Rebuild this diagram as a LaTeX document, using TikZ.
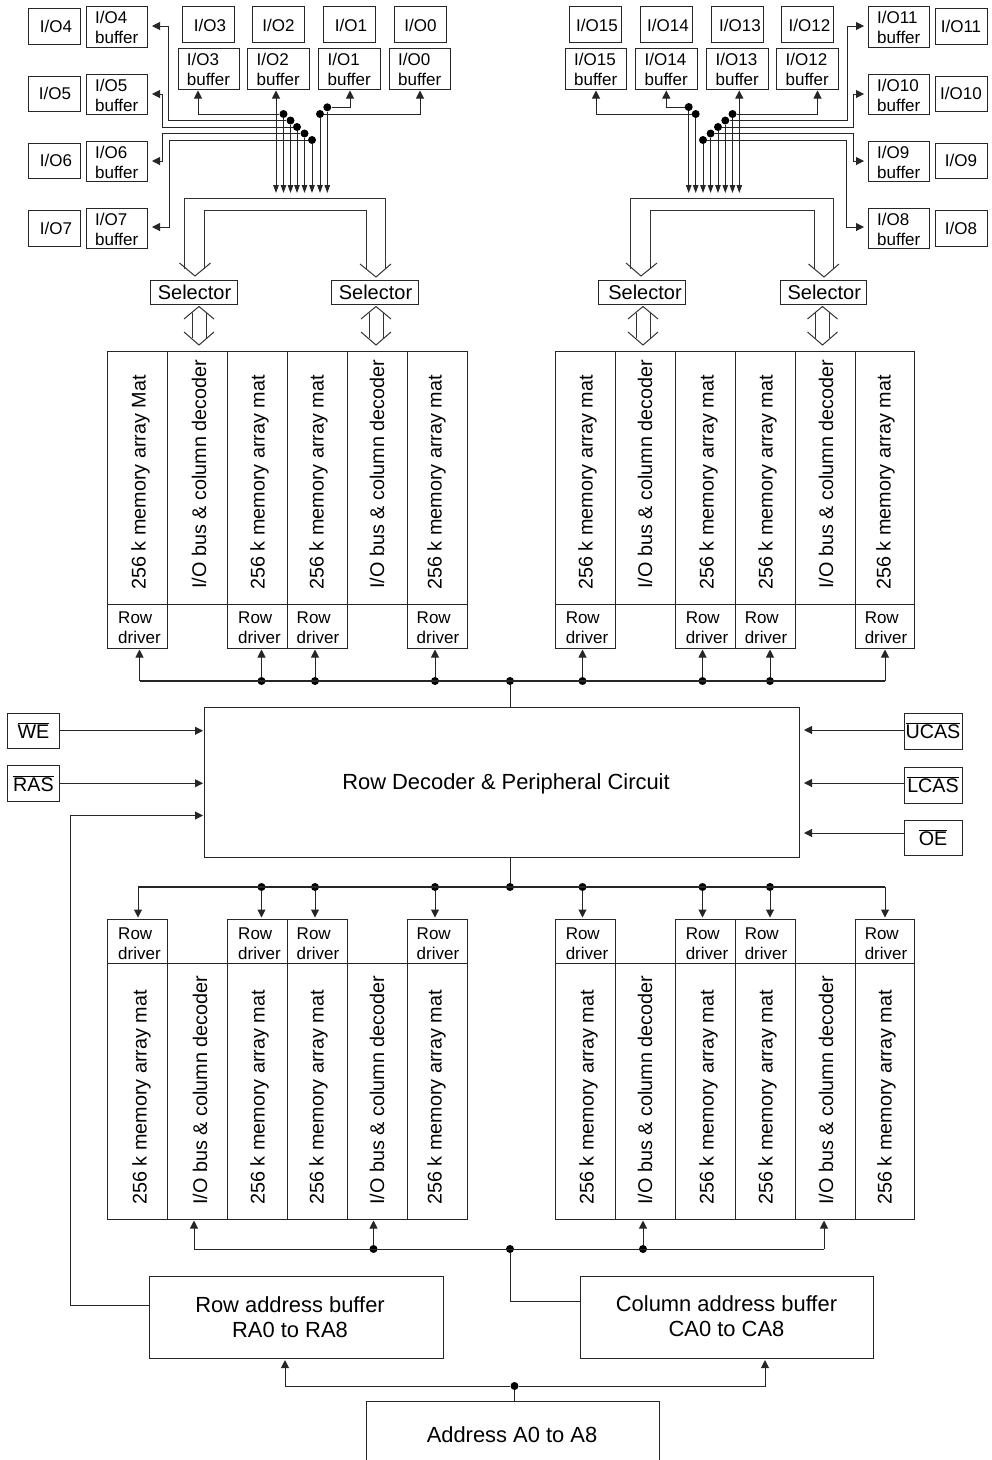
\documentclass[tikz,border=0pt]{standalone}
\usepackage{fontspec}
\setmainfont{Liberation Sans}
\usetikzlibrary{arrows.meta,calc}
\newcommand\mybox[7][]{%
  \pgfmathsetmacro\myw{#5-#3}\pgfmathsetmacro\myh{#6-#4}%
  \pgfmathsetmacro\mycx{(#3+#5)/2}\pgfmathsetmacro\mycy{(#4+#6)/2}%
  \node[boxn,minimum width=\myw pt,minimum height=\myh pt,#1] (#2) at (\mycx,\mycy) {#7};}
\newcommand\ovl[1]{{\fontsize{19.7}{22}\selectfont$\overline{\mbox{#1}}$}}
\newcommand\bufl[1]{\rule{0pt}{14.5pt}#1\\buffer}
\newcommand\topl[1]{\rule{0pt}{15.5pt}#1}
\newcommand\sel{\fontsize{20}{22}\selectfont Selector}
\tikzset{
  boxn/.style={draw=black!85,line width=1pt,inner sep=0pt,outer sep=0pt,align=center,
    font=\fontsize{17}{20}\selectfont},
  buf/.style={align=left},
  txtb/.style={inner sep=0pt,align=center,font=\fontsize{21.9}{24.5}\selectfont},
  rowt/.style={inner sep=0pt,align=left,font=\fontsize{17}{20}\selectfont},
  vtext/.style={rotate=90,anchor=west,inner sep=0pt,font=\fontsize{19.8}{22}\selectfont},
  dotn/.style={circle,fill=black,inner sep=0pt,minimum size=8pt},
  wire/.style={draw=black!85,line width=1pt},
  arr/.style={wire,-{Triangle[length=8pt,width=8pt]},shorten >=1.5pt},
  arrs/.style={wire,-{Triangle[length=8pt,width=5.5pt]}},
  arrb/.style={wire,{Triangle[length=8pt,width=8pt]}-{Triangle[length=8pt,width=5.5pt]}},
  hol/.style={draw=black!80,line width=1pt,line join=miter},
}
\begin{document}
\begin{tikzpicture}[x=1pt,y=-1pt]
\useasboundingbox (0,0) rectangle (992,1460);
% ---------- I/O pads and buffers, left
\mybox{p4}{28.5}{8.5}{80.5}{44}{\kern3pt I/O4}
\mybox{p5}{28.5}{76}{80.5}{111}{\kern1pt I/O5}
\mybox{p6}{28.5}{143}{80.5}{178.5}{\kern3pt I/O6}
\mybox{p7}{28.5}{210.5}{80.5}{246}{\kern3pt I/O7}
\mybox[buf]{b4}{86}{6}{147.5}{47}{\bufl{I/O4}}
\mybox[buf]{b5}{86}{74}{147.5}{114}{\bufl{I/O5}}
\mybox[buf]{b6}{86}{141}{147.5}{181}{\bufl{I/O6}}
\mybox[buf]{b7}{86}{208}{147.5}{248}{\bufl{I/O7}}
\mybox{p3}{182}{6.5}{234}{42}{\topl{\kern4pt I/O3}}
\mybox{p2}{252.5}{6.5}{304.5}{42}{\topl{I/O2}}
\mybox{p1}{323.5}{6.5}{375.5}{42}{\topl{\kern3pt I/O1}}
\mybox{p0}{394.5}{6.5}{446.5}{42}{\topl{I/O0}}
\mybox[buf]{b3}{178}{48}{239}{89}{\bufl{I/O3}}
\mybox[buf]{b2}{247.5}{48}{309}{89}{\bufl{I/O2}}
\mybox[buf]{b1}{318.5}{48}{380}{89}{\bufl{I/O1}}
\mybox[buf]{b0}{389}{48}{450.5}{89}{\bufl{I/O0}}
% ---------- I/O pads and buffers, right
\mybox{p15}{569}{6.5}{621}{42}{\topl{\kern4pt I/O15}}
\mybox{p14}{640}{6.5}{692}{42}{\topl{\kern4pt I/O14}}
\mybox{p13}{711}{6.5}{763}{42}{\topl{\kern6pt I/O13}}
\mybox{p12}{781.5}{6.5}{833.5}{42}{\topl{\kern4pt I/O12}}
\mybox[buf]{b15}{565}{48}{626.5}{89}{\bufl{I/O15}}
\mybox[buf]{b14}{635.5}{48}{697}{89}{\bufl{I/O14}}
\mybox[buf]{b13}{706.5}{48}{768}{89}{\bufl{I/O13}}
\mybox[buf]{b12}{776.5}{48}{838}{89}{\bufl{I/O12}}
\mybox[buf]{b11}{868}{6}{929.5}{47}{\bufl{I/O11}}
\mybox[buf]{b10}{868}{74}{929.5}{114}{\bufl{I/O10}}
\mybox[buf]{b9}{868}{141}{929.5}{181}{\bufl{I/O9}}
\mybox[buf]{b8}{868}{208}{929.5}{248}{\bufl{I/O8}}
\mybox{p11}{935}{8.5}{987}{44}{I/O11}
\mybox{p10}{935}{76}{987}{111}{I/O10}
\mybox{p9}{935}{143}{987}{178.5}{I/O9}
\mybox{p8}{935}{210.5}{987}{246}{I/O8}
% ---------- left fan
\coordinate (fanl) at (300,193);
\node[dotn] (j3) at (283.5,114) {};
\node[dotn] (j4) at (290.5,120.5) {};
\node[dotn] (j5) at (297,127) {};
\node[dotn] (j6) at (304.5,133.5) {};
\node[dotn] (j7) at (312,140) {};
\node[dotn] (j0) at (320,114) {};
\node[dotn] (j1) at (327.3,107.3) {};
\draw[arr] (j3) -| ([xshift=-10.5pt]b3.south);
\draw[arr] (j1) -| ([xshift=0.75pt]b1.south);
\draw[arr] (j0) -| ([xshift=0.25pt]b0.south);
\draw[arr,shorten >=4.5pt] (j4) -- (168.5,120.5) -- (168.5,26) -- (b4.east |- 168.5,26);
\draw[arr,shorten >=4.5pt] (j5) -- (162.5,127) -- (162.5,94) -- (b5.east);
\draw[arr,shorten >=4.5pt] (j6) -- (162,133.5) -- (162,161) -- (b6.east);
\draw[arr,shorten >=4.5pt] (j7) -- (169.5,140) -- (169.5,227) -- (b7.east |- 169.5,227);
\draw[arrb] ([xshift=-2.25pt,yshift=-1.5pt]b2.south) -- ([xshift=-2.25pt]b2.south |- fanl);
\foreach \j in {j3,j4,j5,j6,j7,j0,j1}{\draw[arrs] (\j) -- (\j |- fanl);}
% ---------- right fan
\coordinate (fanr) at (710,193);
\node[dotn] (j14) at (688.7,107) {};
\node[dotn] (j15) at (695.7,114) {};
\node[dotn] (j8) at (703,140) {};
\node[dotn] (j9) at (710.6,133.5) {};
\node[dotn] (j10) at (718,127) {};
\node[dotn] (j11) at (725.3,120.5) {};
\node[dotn] (j12) at (732.5,114) {};
\draw[arr] (j14) -| ([xshift=0.05pt]b14.south);
\draw[arr] (j15) -| ([xshift=0.25pt]b15.south);
\draw[arr] (j12) -| ([xshift=10.25pt]b12.south);
\draw[arr,shorten >=4pt] (j11) -- (847.5,120.5) -- (847.5,26) -- (b11.west |- 847.5,26);
\draw[arr,shorten >=4pt] (j10) -- (853.5,127) -- (853.5,94) -- (b10.west);
\draw[arr,shorten >=4pt] (j9) -- (853.5,133.5) -- (853.5,161) -- (b9.west);
\draw[arr,shorten >=4pt] (j8) -- (846.5,140) -- (846.5,227) -- (b8.west |- 846.5,227);
\draw[arrb] ([xshift=2.05pt,yshift=-1.5pt]b13.south) -- ([xshift=2.05pt]b13.south |- fanr);
\foreach \j in {j14,j15,j8,j9,j10,j11,j12}{\draw[arrs] (\j) -- (\j |- fanr);}
% ---------- hollow bus arrows
\draw[hol] (210.5,263) -- (195,276) -- (179.5,263);
\draw[hol] (391,264) -- (376,277) -- (360,264);
\draw[hol] (184.5,269) -- (184.5,198) -- (385,198) -- (385,269);
\draw[hol] (204,269) -- (204,210) -- (366.5,210) -- (366.5,269);
\draw[hol] (657,263) -- (641,276) -- (626,263);
\draw[hol] (839,264) -- (824,277) -- (808.5,264);
\draw[hol] (630.5,269) -- (630.5,198) -- (833.5,198) -- (833.5,269);
\draw[hol] (650.5,269) -- (650.5,210) -- (814.5,210) -- (814.5,269);
% ---------- selectors
\mybox{s1}{150.5}{280}{237}{304}{\kern1.5pt\sel}
\mybox{s2}{331.5}{280}{418}{304}{\kern1.5pt\sel}
\mybox{s3}{598.5}{280}{685.5}{304}{\kern6pt\sel}
\mybox{s4}{780}{280}{866.5}{304}{\kern2pt\sel}
% ---------- double hollow arrows
\foreach \c in {199,376,643,822.5}{
  \draw[hol] (\c-15,319) -- (\c,306.5) -- (\c+15,319);
  \draw[hol] (\c-15,332) -- (\c,345) -- (\c+15,332);
  \draw[hol] (\c-7,313) -- (\c-7,338);
  \draw[hol] (\c+7,313) -- (\c+7,338);
}
% ---------- memory blocks
\foreach \n/\xa/\xb in {a/107/167,b/167/227,c/227/287,d/287/347,e/347/407,f/407/467,
                        g/555/615,h/615/675,i/675/735,k/735/795,l/795/855,m/855/914.5}{
  \mybox{u\n}{\xa}{351}{\xb}{604.5}{}
  \mybox{v\n}{\xa}{963}{\xb}{1219}{}
}
\foreach \n/\xa/\xb/\tx in {a/107/167/139.5,c/227/287/259.5,d/287/347/318,f/407/467/438,
                        g/555/615/587,i/675/735/707,k/735/795/766,m/855/914.5/886}{
  \mybox{ru\n}{\xa}{604.5}{\xb}{648}{}
  \mybox{rv\n}{\xa}{919}{\xb}{963}{}
  \node[rowt] (rut\n) at (\tx,627.7) {Row\\driver};
  \node[rowt] (rvt\n) at (\tx,944) {Row\\driver};
}
\node[vtext] (tua) at (140.5,590) {256 k memory array Mat};
\foreach \n/\x in {c/259.5,d/318.5,f/436.5,g/587.5,i/708.5,k/767.5,m/885.5}{
  \node[vtext] (tu\n) at (\x,590) {256 k memory array mat};}
\foreach \n/\x in {b/199,e/377,h/645,l/826}{
  \node[vtext] (tu\n) at (\x,589) {I/O bus \& column decoder};}
\foreach \n/\x in {a/141.5,c/259.5,d/318.5,f/436.5,g/588.5,i/708.5,k/767.5,m/886.5}{
  \node[vtext] (tv\n) at (\x,1205) {256 k memory array mat};}
\foreach \n/\x in {b/200,e/377,h/645,l/826}{
  \node[vtext] (tv\n) at (\x,1205) {I/O bus \& column decoder};}
% ---------- centre
\mybox{core}{204.5}{707}{799.5}{857}{}
\node[txtb] (tcore) at (506,784) {Row Decoder \& Peripheral Circuit};
\mybox{we}{7.5}{713}{59.5}{748.5}{\ovl{WE}}
\mybox{ras}{7.5}{765.5}{59.5}{801}{\ovl{RAS}}
\mybox{ucas}{904}{713}{962}{749}{\ovl{UCAS}}
\mybox{lcas}{904}{767}{962}{803}{\ovl{LCAS}}
\mybox{oe}{904}{820}{962}{855}{\ovl{OE}}
\draw[arr] (we.east) -- (we.east -| core.west);
\draw[arr] (ras.east) -- (ras.east -| core.west);
\coordinate (ec1) at (904,730);\coordinate (ec2) at (904,783);\coordinate (ec3) at (904,833);
\foreach \c in {ec1,ec2,ec3}{\draw[arr,shorten >=4.5pt] (\c) -- (\c -| core.east);}
% ---------- upper row-driver bus
\node[dotn] (ju) at (510,681) {};
\coordinate (ua) at (139.5,681);
\node[dotn] (uc) at (261.5,681) {};
\node[dotn] (ud) at (315,681) {};
\node[dotn] (uf) at (435,681) {};
\node[dotn] (ug) at (582.5,681) {};
\node[dotn] (ui) at (702.5,681) {};
\node[dotn] (uk) at (770,681) {};
\coordinate (um) at (885,681);
\draw[wire,line width=1.3pt] (ua) -- (um);
\draw[wire] (ju) -- (ju |- core.north);
\foreach \n in {a,c,d,f,g,i,k,m}{\draw[arr] (u\n) -- (u\n |- ru\n.south);}
% ---------- lower row-driver bus
\node[dotn] (jl) at (510,887) {};
\coordinate (la) at (138,887);
\node[dotn] (lc) at (261.5,887) {};
\node[dotn] (ld) at (315,887) {};
\node[dotn] (lf) at (435,887) {};
\node[dotn] (lg) at (582.5,887) {};
\node[dotn] (li) at (702.5,887) {};
\node[dotn] (lk) at (770,887) {};
\coordinate (lm) at (885,887);
\draw[wire,line width=1.7pt] (la) -- (lm);
\draw[wire] (jl) -- (jl |- core.south);
\foreach \n in {a,c,d,f,g,i,k,m}{\draw[arr,line width=1pt] (l\n) -- (l\n |- rv\n.north);}
% ---------- address buffers
\mybox{rab}{149}{1276.5}{443}{1358.5}{}
\node[txtb] (trab) at (290,1317) {Row address buffer\\RA0 to RA8};
\mybox{cab}{580}{1276.5}{873}{1358.5}{}
\node[txtb] (tcab) at (726.5,1316) {Column address buffer\\CA0 to CA8};
\mybox{addr}{366}{1401}{659}{1460}{}
\node[txtb] (taddr) at (512,1435) {Address A0 to A8};
% bottom data bus
\node[dotn] (jb) at (510,1249) {};
\node[dotn] (jb2) at (373.5,1249) {};
\node[dotn] (jb3) at (643,1249) {};
\coordinate (jb1) at (194,1249);
\coordinate (jb4) at (824,1249);
\draw[wire] (jb1) -- (jb4);
\draw[arr] (jb1) -- (jb1 |- vb.south);
\draw[arr] (jb2) -- (jb2 |- ve.south);
\draw[arr] (jb3) -- (jb3 |- vh.south);
\draw[arr] (jb4) -- (jb4 |- vl.south);
\draw[wire] (jb) |- ([yshift=-1.5pt]cab.west |- 510,1300);
% row address to core
\coordinate (ra) at (70.5,1305);
\coordinate (rb) at (70.5,815.5);
\draw[arr] (rab.west |- ra) -- (ra) -- (rb) -- (rb -| core.west);
% address bus
\node[dotn] (ja) at (514.5,1386) {};
\coordinate (ar) at (285,1386);
\coordinate (ac) at (765,1386);
\draw[arr] (ja) -- (ar) -- (ar |- rab.south);
\draw[arr] (ja) -- (ac) -- (ac |- cab.south);
\draw[wire] (ja) -- (ja |- addr.north);
\end{tikzpicture}
\end{document}
